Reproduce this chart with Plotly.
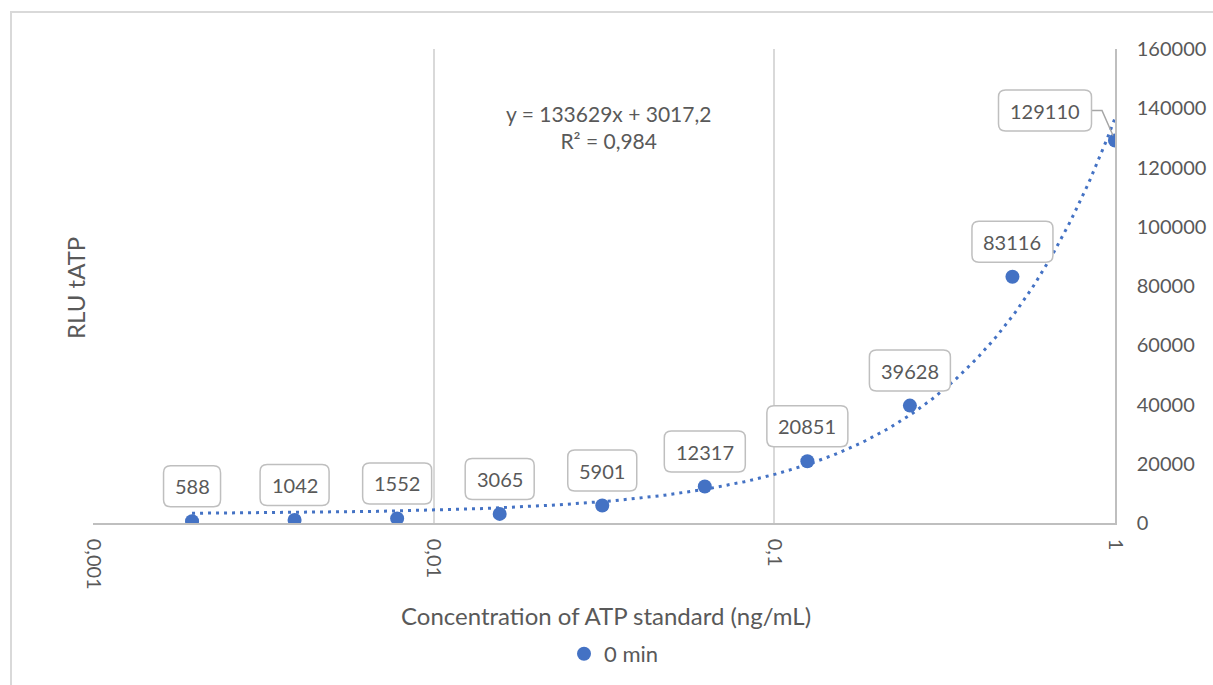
import numpy as np
import plotly.graph_objects as go

# ---- data ----
concentration = [0.001953125, 0.00390625, 0.0078125, 0.015625, 0.03125,
                 0.0625, 0.125, 0.25, 0.5, 1.0]
rlu = [588, 1042, 1552, 3065, 5901, 12317, 20851, 39628, 83116, 129110]
series_name = "0 min"
trend_slope = 133629
trend_intercept = 3017.2
equation_text = "y = 133629x + 3017,2<br>R² = 0,984"
x_tickvals = [0.001, 0.01, 0.1, 1]
x_ticktext = ["0,001", "0,01", "0,1", "1"]
y_tickvals = [0, 20000, 40000, 60000, 80000, 100000, 120000, 140000, 160000]
y_ticktext = [str(v) for v in y_tickvals]
x_title = "Concentration of ATP standard (ng/mL)"
y_title = "RLU tATP"

BLUE = "#4472C4"
TXT = "#595959"
FONT = "Lato"
W, H = 1213, 685
ML, MR, MT, MB = 93, 98, 49, 162
PW, PH = W - ML - MR, H - MT - MB


def px_to_paper_x(px):
    return (px - ML) / PW


def px_to_paper_y(py):
    return (H - MB - py) / PH


# trendline (linear fit as reported, drawn on log x axis)
tx = np.logspace(np.log10(min(concentration)), np.log10(max(concentration)), 300)
ty = trend_slope * tx + trend_intercept

fig = go.Figure()
fig.add_trace(go.Scatter(x=tx, y=ty, mode="lines",
                         line=dict(color=BLUE, width=3, dash="3px,5px"),
                         showlegend=False, hoverinfo="skip"))
fig.add_trace(go.Scatter(x=concentration, y=rlu, mode="markers", name=series_name,
                         marker=dict(color=BLUE, size=14)))


def rounded_path(cx, cy, w, h, r):
    x0, x1 = cx - w / 2, cx + w / 2
    y0, y1 = cy - h / 2, cy + h / 2
    return (f"M {x0 + r},{y0} L {x1 - r},{y0} Q {x1},{y0} {x1},{y0 + r} "
            f"L {x1},{y1 - r} Q {x1},{y1} {x1 - r},{y1} L {x0 + r},{y1} "
            f"Q {x0},{y1} {x0},{y1 - r} L {x0},{y0 + r} Q {x0},{y0} {x0 + r},{y0} Z")


shapes = []
annotations = []
for i, (xv, yv) in enumerate(zip(concentration, rlu)):
    label = str(yv)
    if i == len(rlu) - 1:
        cx, cy = -70, 30
    else:
        cx, cy = 0, 35
    bw = 12 * len(label) + 21
    bh = 41
    if i == len(rlu) - 1:
        shapes.append(dict(type="path", xref="x", yref="y", xsizemode="pixel",
                           ysizemode="pixel", xanchor=xv, yanchor=yv,
                           path=f"M {cx + bw / 2},{cy} L -13,{cy} L -2,5",
                           line=dict(color="#a6a6a6", width=1.5), layer="above"))
    shapes.append(dict(type="path", xref="x", yref="y", xsizemode="pixel",
                       ysizemode="pixel", xanchor=xv, yanchor=yv,
                       path=rounded_path(cx, cy, bw, bh, 7),
                       line=dict(color="#bfbfbf", width=1.5),
                       fillcolor="white", layer="above"))
    annotations.append(dict(x=np.log10(xv), y=yv, xref="x", yref="y", text=label,
                            showarrow=False, xshift=cx, yshift=cy,
                            xanchor="center", yanchor="middle",
                            font=dict(family=FONT, size=20, color=TXT)))

# outer chart border (top/left visible)
shapes.append(dict(type="rect", xref="paper", yref="paper",
                   x0=px_to_paper_x(11), x1=px_to_paper_x(1230),
                   y0=px_to_paper_y(700), y1=px_to_paper_y(12),
                   line=dict(color="#d9d9d9", width=2), layer="below"))

annotations.append(dict(x=px_to_paper_x(608), y=px_to_paper_y(127), xref="paper", yref="paper",
                        text=equation_text, showarrow=False, align="center",
                        xanchor="center", yanchor="middle",
                        font=dict(family=FONT, size=21, color=TXT)))
annotations.append(dict(x=px_to_paper_x(606), y=px_to_paper_y(615), xref="paper", yref="paper",
                        text=x_title, showarrow=False,
                        xanchor="center", yanchor="middle",
                        font=dict(family=FONT, size=24, color=TXT)))
annotations.append(dict(x=px_to_paper_x(75), y=px_to_paper_y(288), xref="paper", yref="paper",
                        text=y_title, showarrow=False, textangle=-90,
                        xanchor="center", yanchor="middle",
                        font=dict(family=FONT, size=24, color=TXT)))

fig.update_layout(
    width=W, height=H,
    margin=dict(l=ML, r=MR, t=MT, b=MB, autoexpand=False),
    paper_bgcolor="white", plot_bgcolor="white",
    font=dict(family=FONT, size=20, color=TXT),
    shapes=shapes, annotations=annotations,
    showlegend=True,
    legend=dict(orientation="h", x=px_to_paper_x(614), xanchor="center",
                y=px_to_paper_y(654), yanchor="middle", itemwidth=30,
                font=dict(family=FONT, size=22, color=TXT)),
    xaxis=dict(type="log", range=[-3, 0], tickvals=x_tickvals, ticktext=x_ticktext,
               tickangle=90, showgrid=True, gridcolor="#d9d9d9", gridwidth=1.5,
               showline=True, linecolor="#bfbfbf", linewidth=1.5,
               ticks="", ticklabelstandoff=10, zeroline=False,
               tickfont=dict(family=FONT, size=20, color=TXT)),
    yaxis=dict(side="right", range=[0, 160000], tickvals=y_tickvals, ticktext=y_ticktext,
               showgrid=False, showline=True, linecolor="#bfbfbf", linewidth=1.5,
               ticks="", ticklabelstandoff=16, zeroline=False,
               tickfont=dict(family=FONT, size=20, color=TXT)),
)

fig.write_html("out.html", config={"displayModeBar": False},
               post_script="document.body.style.margin='0';document.body.style.overflow='hidden';")
